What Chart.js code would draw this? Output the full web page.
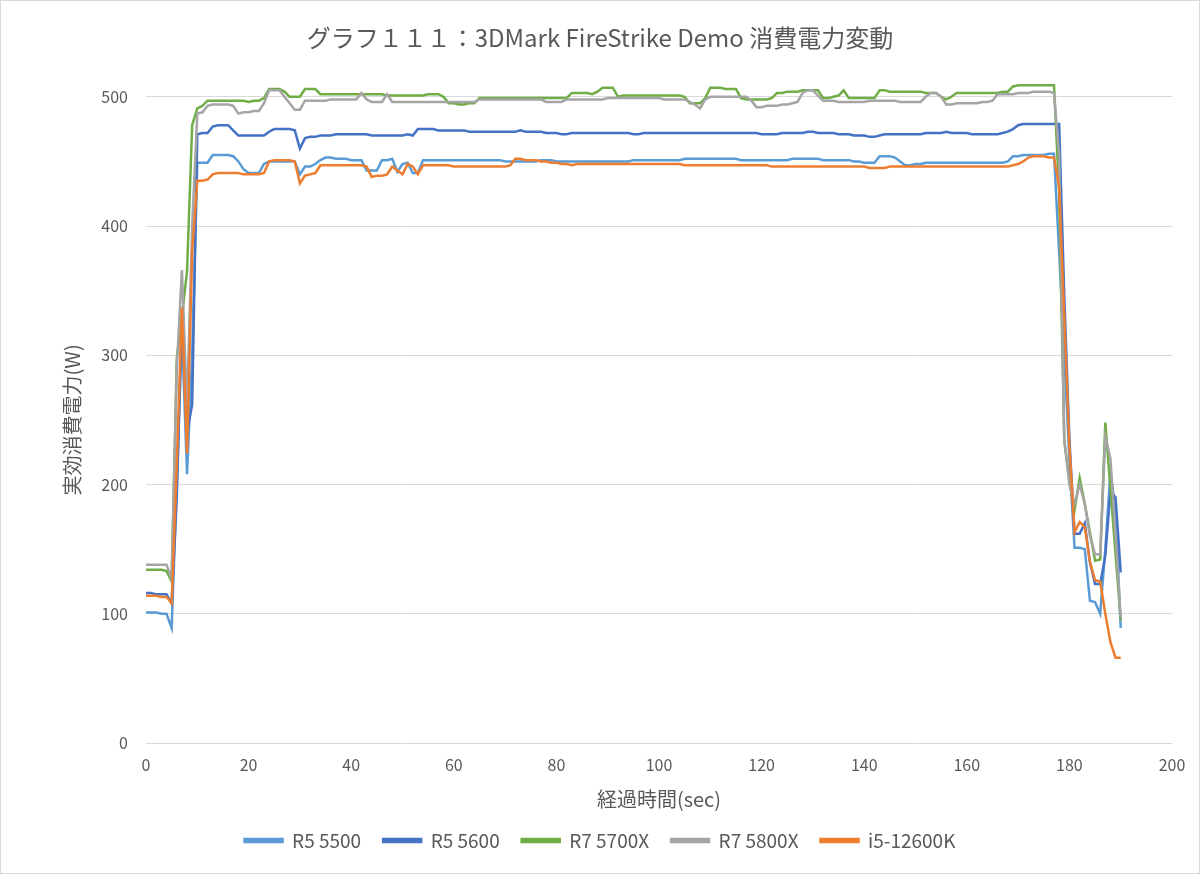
<!DOCTYPE html>
<html>
<head>
<meta charset="utf-8">
<script src="https://cdn.jsdelivr.net/npm/chart.js"></script>
<style>
  html, body { margin: 0; padding: 0; background: #fff; }
  #wrap { width: 1200px; height: 874px; }
</style>
</head>
<body>
<div id="wrap"><canvas id="powerChart" width="1200" height="874"></canvas></div>
<script>
// Data (W per second, 0..190 sec)
const seriesNames = ['R5 5500', 'R5 5600', 'R7 5700X', 'R7 5800X', 'i5-12600K'];
const seriesColors = ['#5B9BD5', '#4472C4', '#70AD47', '#A5A5A5', '#ED7D31'];
const xTicks = [0, 20, 40, 60, 80, 100, 120, 140, 160, 180, 200];
const yTicks = [0, 100, 200, 300, 400, 500];

const r5_5500 = [
  101,101,101,100,100,89,200,320,208,300,
  449,449,449,455,455,455,455,454,450,444,
  441,441,441,448,450,450,450,450,450,450,
  440,446,446,448,451,453,453,452,452,452,
  451,451,451,443,443,443,451,451,452,442,
  448,449,441,441,451,451,451,451,451,451,
  451,451,451,451,451,451,451,451,451,451,
  450,450,450,450,450,450,450,451,451,451,
  450,450,450,450,450,450,450,450,450,450,
  450,450,450,450,450,451,451,451,451,451,
  451,451,451,451,451,452,452,452,452,452,
  452,452,452,452,452,452,451,451,451,451,
  451,451,451,451,451,451,452,452,452,452,
  452,452,451,451,451,451,451,451,450,450,
  449,449,449,454,454,454,453,450,447,447,
  448,448,449,449,449,449,449,449,449,449,
  449,449,449,449,449,449,449,449,450,454,
  454,455,455,455,455,455,456,456,380,300,
  220,151,151,150,110,109,100,150,210,180,89
];
const r5_5600 = [
  116,116,115,115,115,108,190,330,240,262,
  471,472,472,477,478,478,478,474,470,470,
  470,470,470,470,473,475,475,475,475,474,
  460,468,469,469,470,470,470,471,471,471,
  471,471,471,471,470,470,470,470,470,470,
  470,471,470,475,475,475,475,474,474,474,
  474,474,474,473,473,473,473,473,473,473,
  473,473,473,474,473,473,473,473,472,472,
  472,471,471,472,472,472,472,472,472,472,
  472,472,472,472,472,471,471,472,472,472,
  472,472,472,472,472,472,472,472,472,472,
  472,472,472,472,472,472,472,472,472,472,
  471,471,471,471,472,472,472,472,472,473,
  473,472,472,472,472,471,471,471,470,470,
  470,469,469,470,471,471,471,471,471,471,
  471,471,472,472,472,472,473,472,472,472,
  472,471,471,471,471,471,471,472,473,475,
  478,479,479,479,479,479,479,479,479,346,
  235,162,162,170,140,123,123,145,195,190,132
];
const r7_5700x = [
  134,134,134,134,133,125,298,330,365,478,
  491,493,497,497,497,497,497,497,497,497,
  496,497,497,499,506,506,506,504,500,500,
  500,506,506,506,502,502,502,502,502,502,
  502,502,502,502,502,502,502,501,501,501,
  501,501,501,501,501,502,502,502,500,495,
  495,494,494,495,495,499,499,499,499,499,
  499,499,499,499,499,499,499,499,499,499,
  499,499,499,503,503,503,503,502,504,507,
  507,507,500,501,501,501,501,501,501,501,
  501,501,501,501,501,500,495,495,495,499,
  507,507,507,506,506,506,499,498,498,498,
  498,498,499,503,503,504,504,504,505,505,
  505,505,499,499,500,501,505,499,499,499,
  499,499,499,505,505,504,504,504,504,504,
  504,504,503,503,503,500,498,500,503,503,
  503,503,503,503,503,503,503,504,504,508,
  509,509,509,509,509,509,509,509,426,234,
  203,180,205,185,163,141,142,248,197,146,95
];
const r7_5800x = [
  138,138,138,138,138,127,290,366,260,400,
  487,488,493,494,494,494,494,493,487,488,
  488,489,489,495,505,505,505,500,495,490,
  490,497,497,497,497,497,498,498,498,498,
  498,498,503,498,496,496,496,502,496,496,
  496,496,496,496,496,496,496,496,496,496,
  496,496,496,496,496,498,498,498,498,498,
  498,498,498,498,498,498,498,498,496,496,
  496,496,498,498,498,498,498,498,498,498,
  499,499,499,499,499,499,499,499,499,499,
  499,498,498,498,498,498,496,494,491,498,
  500,500,500,500,500,500,500,500,497,492,
  492,493,493,493,494,494,495,496,503,505,
  505,501,497,497,497,496,496,496,496,496,
  496,497,497,497,497,497,497,496,496,496,
  496,496,500,503,503,500,494,494,495,495,
  495,495,495,496,496,497,502,502,502,502,
  503,503,503,504,504,504,504,503,455,235,
  200,185,200,185,160,146,146,237,220,160,97
];
const i5_12600k = [
  114,114,114,113,113,108,215,337,224,380,
  435,435,436,440,441,441,441,441,441,440,
  440,440,440,441,450,451,451,451,451,450,
  433,439,440,441,447,447,447,447,447,447,
  447,447,447,446,438,439,439,440,446,443,
  440,448,446,440,447,447,447,447,447,447,
  446,446,446,446,446,446,446,446,446,446,
  446,447,452,452,451,451,451,450,450,449,
  449,448,448,447,448,448,448,448,448,448,
  448,448,448,448,448,448,448,448,448,448,
  448,448,448,448,448,447,447,447,447,447,
  447,447,447,447,447,447,447,447,447,447,
  447,447,446,446,446,446,446,446,446,446,
  446,446,446,446,446,446,446,446,446,446,
  446,445,445,445,445,446,446,446,446,446,
  446,446,446,446,446,446,446,446,446,446,
  446,446,446,446,446,446,446,446,446,447,
  448,450,453,454,454,454,453,453,430,330,
  230,163,171,167,140,126,125,100,78,66,66
];
const allSeries = [r5_5500, r5_5600, r7_5700x, r7_5800x, i5_12600k];

const FONT = '"Noto Sans CJK JP", "Noto Sans", sans-serif';
const TEXT = '#595959';

// white background + thin border around the chart area
const frame = {
  id: 'frame',
  beforeDraw(chart) {
    const c = chart.ctx;
    c.save();
    c.fillStyle = '#fff';
    c.fillRect(0, 0, chart.width, chart.height);
    c.strokeStyle = '#d9d9d9';
    c.lineWidth = 1;
    c.strokeRect(0.5, 0.5, chart.width - 1, chart.height - 1);
    c.restore();
  }
};

const datasets = allSeries.map((vals, i) => ({
  label: seriesNames[i],
  data: vals.map((v, t) => ({ x: t, y: v })),
  borderColor: seriesColors[i],
  backgroundColor: seriesColors[i],
  borderWidth: 2.5,
  pointRadius: 0,
  tension: 0,
  clip: false,
  order: allSeries.length - i
}));

new Chart(document.getElementById('powerChart'), {
  type: 'line',
  data: { datasets },
  options: {
    responsive: false,
    animation: false,
    layout: { padding: { left: 0, right: 0, top: 0, bottom: 14 } },
    plugins: {
      title: {
        display: true,
        text: 'グラフ１１１：3DMark FireStrike Demo 消費電力変動',
        color: TEXT,
        font: { family: FONT, size: 24, weight: 'normal' },
        padding: { top: 23, bottom: 45 }
      },
      legend: {
        position: 'bottom',
        labels: {
          color: TEXT,
          font: { family: FONT, size: 19 },
          boxWidth: 38,
          boxHeight: 3,
          padding: 22,
          sort: (a, b) => a.datasetIndex - b.datasetIndex
        }
      },
      tooltip: { enabled: false }
    },
    scales: {
      x: {
        type: 'linear',
        min: 0,
        max: 200,
        afterFit: (s) => { s.height = 66; },
        afterBuildTicks: (s) => { s.ticks = xTicks.map(v => ({ value: v })); },
        grid: { display: false, drawTicks: false },
        border: { display: false },
        ticks: { color: TEXT, font: { family: FONT, size: 16 }, padding: 12, maxRotation: 0 },
        title: {
          display: true,
          text: '経過時間(sec)',
          color: TEXT,
          font: { family: FONT, size: 20, lineHeight: 1 },
          padding: { top: 0, bottom: 0 }
        }
      },
      y: {
        min: 0,
        max: 500,
        afterFit: (s) => { s.width = 146; },
        afterBuildTicks: (s) => { s.ticks = yTicks.map(v => ({ value: v })); },
        grid: { color: '#d9d9d9', lineWidth: 1, drawTicks: false },
        border: { display: false },
        ticks: { color: TEXT, font: { family: FONT, size: 16 }, padding: 18 },
        title: {
          display: true,
          text: '実効消費電力(W)',
          color: TEXT,
          font: { family: FONT, size: 20 },
          padding: { top: 60, bottom: 0 }
        }
      },
      // empty right-hand margin so title and legend center on the full width
      yRight: {
        position: 'right',
        min: 0,
        max: 500,
        afterFit: (s) => { s.width = 28; },
        grid: { display: false, drawTicks: false },
        border: { display: false },
        ticks: { display: false }
      }
    }
  },
  plugins: [frame]
});
</script>
</body>
</html>
